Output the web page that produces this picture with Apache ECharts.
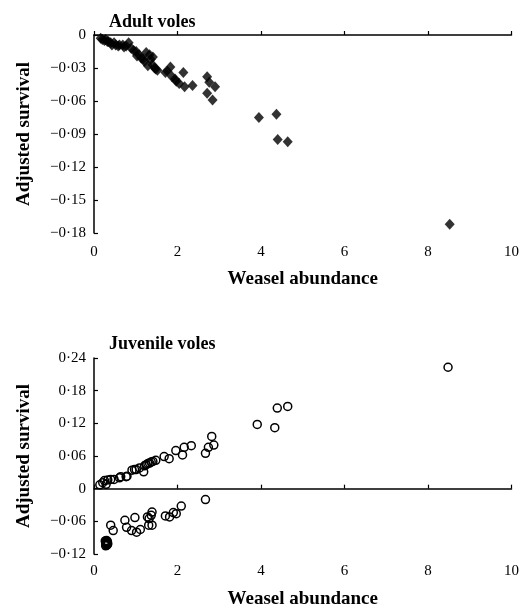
<!DOCTYPE html>
<html><head><meta charset="utf-8">
<script src="https://cdn.jsdelivr.net/npm/echarts@6/dist/echarts.min.js"></script>
<style>html,body{margin:0;padding:0;background:#fff}#c{width:522px;height:610px}</style>
</head><body><div id="c"></div>
<script>
// Adult voles: weasel abundance (x) and adjusted survival (y)
var adultX = [0.16,0.20,0.25,0.28,0.32,0.35,0.40,0.43,0.48,0.52,0.58,0.61,0.69,0.72,0.77,0.83,0.89,0.95,1.01,1.03,1.08,1.13,1.18,1.21,1.25,1.29,1.33,1.36,1.40,1.41,1.45,1.48,1.52,1.71,1.76,1.83,1.87,1.94,1.97,2.04,2.14,2.17,2.36,2.71,2.76,2.90,2.71,2.84,3.95,4.37,4.40,4.64,8.52];
var adultY = [-0.003,-0.004,-0.005,-0.004,-0.006,-0.006,-0.007,-0.009,-0.007,-0.009,-0.010,-0.009,-0.009,-0.011,-0.010,-0.007,-0.012,-0.014,-0.015,-0.019,-0.018,-0.021,-0.022,-0.024,-0.016,-0.028,-0.018,-0.022,-0.027,-0.020,-0.030,-0.031,-0.032,-0.034,-0.033,-0.029,-0.038,-0.040,-0.042,-0.044,-0.034,-0.047,-0.046,-0.038,-0.043,-0.047,-0.053,-0.059,-0.075,-0.072,-0.095,-0.097,-0.172];
// Juvenile voles
var juvX = [0.14,0.21,0.25,0.29,0.33,0.40,0.48,0.61,0.64,0.77,0.79,0.91,0.97,1.01,1.09,1.19,1.21,1.25,1.29,1.33,1.37,1.41,1.48,1.68,1.80,1.96,2.12,2.16,2.33,2.67,2.74,2.82,2.87,3.91,4.33,4.39,4.64,8.48,
            0.40,0.46,0.74,0.78,0.90,0.98,1.02,1.11,1.28,1.32,1.37,1.39,1.31,1.39,1.71,1.81,1.90,1.97,2.09,2.67,
            0.27,0.28,0.29,0.30,0.31,0.32,0.33,0.28,0.30,0.32,0.29,0.31];
var juvY = [0.007,0.011,0.015,0.008,0.016,0.017,0.017,0.020,0.022,0.022,0.023,0.034,0.035,0.035,0.038,0.031,0.042,0.044,0.046,0.047,0.049,0.050,0.052,0.059,0.055,0.070,0.062,0.076,0.079,0.065,0.076,0.096,0.080,0.118,0.112,0.148,0.151,0.223,
            -0.067,-0.077,-0.058,-0.071,-0.077,-0.053,-0.080,-0.075,-0.052,-0.055,-0.049,-0.043,-0.067,-0.067,-0.050,-0.052,-0.044,-0.046,-0.032,-0.020,
            -0.096,-0.099,-0.102,-0.104,-0.100,-0.097,-0.101,-0.105,-0.095,-0.103,-0.098,-0.100];
var xTicks = [0,2,4,6,8,10];
var adultTicks = [0,-0.03,-0.06,-0.09,-0.12,-0.15,-0.18];
var juvTicks = [0.24,0.18,0.12,0.06,0,-0.06,-0.12];

function pairs(xs, ys){ return xs.map(function(x,i){ return [x, ys[i]]; }); }
function fmt(v){
  if (Math.abs(v) < 1e-9) return '0';
  return (v < 0 ? '\u2212' : '') + Math.abs(v).toFixed(2).replace('.', '\u00b7');
}
var FONT = 'Liberation Serif';
function xAxis(idx, gap, margin){
  return {
    gridIndex: idx, type: 'value', min: xTicks[0], max: xTicks[xTicks.length-1], interval: xTicks[1]-xTicks[0],
    name: 'Weasel abundance', nameLocation: 'middle', nameGap: gap,
    nameTextStyle: {fontFamily: FONT, fontWeight: 'bold', fontSize: 19, color: '#000'},
    axisLine: {lineStyle: {color: '#000', width: 1.5}},
    axisTick: {inside: true, length: 4, lineStyle: {color: '#000', width: 1.2}},
    axisLabel: {fontFamily: FONT, fontSize: 15, color: '#000', margin: margin},
    splitLine: {show: false}
  };
}
function yAxis(idx, ticks){
  var mn = Math.min.apply(null, ticks), mx = Math.max.apply(null, ticks);
  return {
    gridIndex: idx, type: 'value', min: mn, max: mx, interval: Math.abs(ticks[1]-ticks[0]),
    name: 'Adjusted survival', nameLocation: 'middle', nameGap: 60,
    nameTextStyle: {fontFamily: FONT, fontWeight: 'bold', fontSize: 19, color: '#000'},
    axisLine: {show: true, lineStyle: {color: '#000', width: 1.5}},
    axisTick: {show: true, inside: true, length: 4, lineStyle: {color: '#000', width: 1.2}},
    axisLabel: {fontFamily: FONT, fontSize: 15, color: '#000', margin: 8, formatter: fmt},
    splitLine: {show: false}
  };
}
var chart = echarts.init(document.getElementById('c'), null, {renderer: 'canvas'});
chart.setOption({
  backgroundColor: '#fff',
  animation: false,
  title: [
    {text: 'Adult voles', left: 104, top: 8, textStyle: {fontFamily: FONT, fontWeight: 'bold', fontSize: 18, color: '#000'}},
    {text: 'Juvenile voles', left: 104, top: 330, textStyle: {fontFamily: FONT, fontWeight: 'bold', fontSize: 18, color: '#000'}}
  ],
  grid: [
    {left: 94, top: 35, width: 420, height: 198},
    {left: 94, top: 358, width: 420, height: 200}
  ],
  xAxis: [xAxis(0, 37, 12), xAxis(1, 36, 10)],
  yAxis: [yAxis(0, adultTicks), yAxis(1, juvTicks)],
  series: [
    {type: 'scatter', xAxisIndex: 0, yAxisIndex: 0, symbol: 'diamond', symbolSize: [10, 11],
     itemStyle: {color: '#000'}, data: pairs(adultX, adultY)},
    {type: 'scatter', xAxisIndex: 1, yAxisIndex: 1, symbol: 'circle', symbolSize: 8,
     itemStyle: {color: 'rgba(0,0,0,0)', borderColor: '#000', borderWidth: 1.5, opacity: 1},
     data: pairs(juvX, juvY)}
  ]
});
</script></body></html>
